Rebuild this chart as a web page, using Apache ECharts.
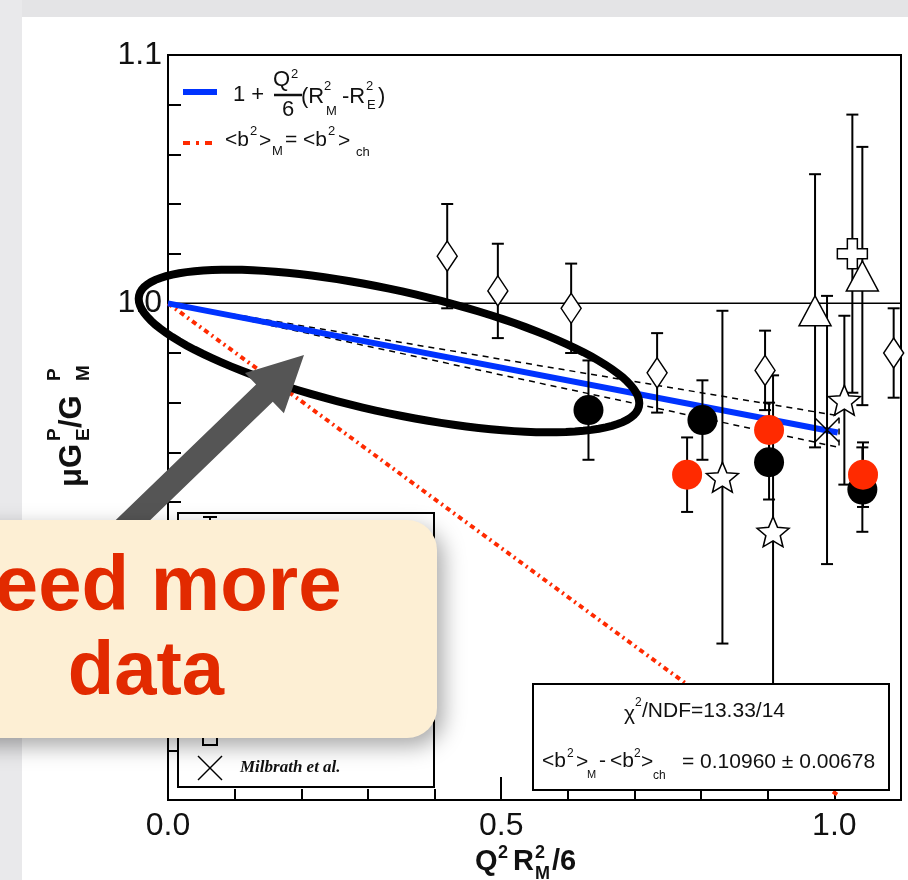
<!DOCTYPE html>
<html>
<head>
<meta charset="utf-8">
<script src="https://cdn.jsdelivr.net/npm/echarts@6/dist/echarts.min.js"></script>
<style>
  html, body { margin: 0; padding: 0; background: #fff; }
  #main { width: 908px; height: 880px; }
</style>
</head>
<body>
<div id="main"></div>
<script>
// values
var diamondX   = [0.419, 0.495, 0.605, 0.734, 0.896, 1.089];
var diamondY   = [1.019, 1.005, 0.998, 0.972, 0.973, 0.980];
var diamondErr = [0.021, 0.019, 0.018, 0.016, 0.016, 0.018];

var blackX   = [0.631, 0.802, 0.902, 1.042];
var blackY   = [0.957, 0.953, 0.936, 0.925];
var blackErr = [0.020, 0.016, 0.015, 0.017];

var redX   = [0.779, 0.902, 1.043];
var redY   = [0.931, 0.949, 0.931];
var redErr = [0.015, 0.011, 0.013];

var starX   = [0.832, 0.908, 1.015];
var starY   = [0.930, 0.908, 0.961];
var starErr = [0.067, 0.063, 0.034];

var triX   = [0.971, 1.042];
var triY   = [0.997, 1.011];
var triErr = [0.055, 0.052];

var crossX   = [1.027];
var crossY   = [1.020];
var crossErr = [0.056];

var milbX   = [0.989];
var milbY   = [0.949];
var milbErr = [0.054];

// fit line, its error band and the <b2>_M=<b2>_ch line
var fitX   = [0, 1.005];
var fitY   = [1.0, 0.948];
var bandX  = [0, 1.007, 1.007, 0];
var bandY  = [1.0, 0.9547, 0.942, 1.0];
var equalX = [0, 1.005];
var equalY = [1.0, 0.802];
var refX   = [0, 1.1];
var refY   = [1.0, 1.0];

var xTickLabels = ['0.0', '0.5', '1.0'];
var yTickLabels = ['0.9', '1.0', '1.1'];

var FONT = '"Liberation Sans", Arial, sans-serif';

function pts(xs, ys) { return xs.map(function (x, i) { return [x, ys[i]]; }); }
function errPts(xs, ys, es) { return xs.map(function (x, i) { return [x, ys[i], es[i]]; }); }

function errSeries(xs, ys, es) {
  return {
    type: 'custom', z: 3, silent: true,
    data: errPts(xs, ys, es),
    encode: { x: 0, y: 1 },
    renderItem: function (params, api) {
      var x = api.value(0), y = api.value(1), e = api.value(2);
      var t = api.coord([x, y + e]), b = api.coord([x, y - e]);
      var st = { stroke: '#000', lineWidth: 2 };
      return { type: 'group', children: [
        { type: 'line', shape: { x1: t[0], y1: t[1], x2: b[0], y2: b[1] }, style: st },
        { type: 'line', shape: { x1: t[0] - 6, y1: t[1], x2: t[0] + 6, y2: t[1] }, style: st },
        { type: 'line', shape: { x1: b[0] - 6, y1: b[1], x2: b[0] + 6, y2: b[1] }, style: st }
      ] };
    }
  };
}

function markSeries(xs, ys, symbol, size, fill, border) {
  return {
    type: 'scatter', z: 4, silent: true,
    data: pts(xs, ys), symbol: symbol, symbolSize: size,
    itemStyle: { color: fill, borderColor: border || fill, borderWidth: border ? 1.5 : 0, opacity: 1 }
  };
}

function lineSeries(xs, ys, color, width, type) {
  return {
    type: 'line', z: 2, silent: true, symbol: 'none',
    data: pts(xs, ys),
    lineStyle: { color: color, width: width, type: type }
  };
}

// five point star symbol
function starPath() {
  var p = [];
  for (var k = 0; k < 10; k++) {
    var r = k % 2 ? 0.45 : 1;
    var a = -Math.PI / 2 + k * Math.PI / 5;
    p.push((k ? 'L' : 'M') + (r * Math.cos(a)).toFixed(3) + ',' + (r * Math.sin(a)).toFixed(3));
  }
  return 'path://' + p.join('') + 'Z';
}
var plusPath = 'path://M3,0H6V3H9V6H6V9H3V6H0V3H3Z';
var xPath = 'path://M0,0L10,10M10,0L0,10';

// text pieces for the little formulas
function t(x, y, s, size, opt) {
  opt = opt || {};
  return {
    type: 'text', x: x, y: y, z: opt.z || 60, silent: true,
    style: {
      text: s, fontSize: size, fontFamily: opt.family || FONT,
      fontWeight: opt.bold ? 'bold' : 'normal', fontStyle: opt.italic ? 'italic' : 'normal',
      fill: opt.color || '#111', align: opt.align || 'left', verticalAlign: 'middle'
    }
  };
}

// callout arrow
function arrowPoints(tip, angleDeg, len, headLen, headHalf, shaftHalf) {
  var a = angleDeg * Math.PI / 180;
  var ux = Math.cos(a), uy = -Math.sin(a);
  var nx = -uy, ny = ux;
  var bx = tip[0] - headLen * ux, by = tip[1] - headLen * uy;
  var tx = tip[0] - len * ux, ty = tip[1] - len * uy;
  return [
    [tx + shaftHalf * nx, ty + shaftHalf * ny],
    [bx + shaftHalf * nx, by + shaftHalf * ny],
    [bx + headHalf * nx, by + headHalf * ny],
    tip,
    [bx - headHalf * nx, by - headHalf * ny],
    [bx - shaftHalf * nx, by - shaftHalf * ny],
    [tx - shaftHalf * nx, ty - shaftHalf * ny]
  ];
}

function ellipsePoints(cx, cy, a, b, phiDeg) {
  var phi = phiDeg * Math.PI / 180, out = [];
  for (var i = 0; i < 120; i++) {
    var s = i / 120 * Math.PI * 2;
    out.push([cx + a * Math.cos(s) * Math.cos(phi) - b * Math.sin(s) * Math.sin(phi),
              cy + a * Math.cos(s) * Math.sin(phi) + b * Math.sin(s) * Math.cos(phi)]);
  }
  return out;
}

var chart = echarts.init(document.getElementById('main'));

var axisBase = {
  axisLine: { lineStyle: { color: '#000', width: 2 } },
  splitLine: { show: false }
};

chart.setOption({
  animation: false,
  backgroundColor: '#fff',
  grid: { left: 168, right: 7, top: 55, bottom: 80, show: true, borderColor: '#000', borderWidth: 2,
          outerBoundsMode: 'none' },
  xAxis: [
    Object.assign({
      type: 'value', min: 0, max: 1.1, interval: 0.1, position: 'bottom',
      axisTick: { inside: true, length: 11, lineStyle: { color: '#000', width: 2 } },
      axisLabel: {
        margin: 10, fontSize: 32, fontFamily: FONT, color: '#111',
        formatter: function (v) {
          var s = v.toFixed(1);
          return xTickLabels.indexOf(s) >= 0 && Math.abs(v - parseFloat(s)) < 1e-6 ? s : '';
        }
      }
    }, axisBase),
    {
      type: 'value', min: 0, max: 1.1, interval: 0.5, position: 'bottom',
      axisLine: { show: false }, splitLine: { show: false }, axisLabel: { show: false },
      axisTick: { inside: true, length: 23, lineStyle: { color: '#000', width: 2 } }
    }
  ],
  yAxis: Object.assign({
    type: 'value', min: 0.8, max: 1.1, interval: 0.02,
    axisTick: { inside: true, length: 13, lineStyle: { color: '#000', width: 2 } },
    axisLabel: {
      margin: 6, fontSize: 32, fontFamily: FONT, color: '#111',
      formatter: function (v) {
        var s = v.toFixed(1);
        return yTickLabels.indexOf(s) >= 0 && Math.abs(v - parseFloat(s)) < 1e-6 ? s : '';
      }
    }
  }, axisBase),
  series: [
    lineSeries(refX, refY, '#000', 1.5, 'solid'),
    lineSeries(equalX, equalY, '#ff2a00', 4, [5, 4, 2, 4]),
    lineSeries(bandX, bandY, '#000', 1.5, [6, 5]),
    lineSeries(fitX, fitY, '#0033ff', 6, 'solid'),

    errSeries(diamondX, diamondY, diamondErr),
    errSeries(blackX, blackY, blackErr),
    errSeries(redX, redY, redErr),
    errSeries(starX, starY, starErr),
    errSeries(triX, triY, triErr),
    errSeries(crossX, crossY, crossErr),
    errSeries(milbX, milbY, milbErr),

    markSeries(diamondX, diamondY, 'diamond', [20, 30], '#fff', '#000'),
    markSeries(starX, starY, starPath(), [32, 30], '#fff', '#000'),
    markSeries(triX, triY, 'triangle', [32, 30], '#fff', '#000'),
    markSeries(crossX, crossY, plusPath, [30, 30], '#fff', '#000'),
    markSeries(milbX, milbY, xPath, [24, 24], 'rgba(0,0,0,0)', '#000'),
    markSeries(blackX, blackY, 'circle', 30, '#000'),
    markSeries(redX, redY, 'circle', 30, '#ff2a00')
  ],
  graphic: [
    // grey slide margin
    { type: 'rect', z: 1, silent: true, shape: { x: 0, y: 0, width: 908, height: 17 }, style: { fill: '#e4e4e6' } },
    { type: 'rect', z: 1, silent: true, shape: { x: 0, y: 0, width: 22, height: 880 }, style: { fill: '#e9e9eb' } },

    // y title  (rotated)
    { type: 'group', x: 84, y: 487, rotation: Math.PI / 2, z: 60, silent: true, children: [
      t(0, -12, '\u03bcG', 31, { bold: true }),
      t(46, -29, 'P', 19, { bold: true }),
      t(46, 0, 'E', 19, { bold: true }),
      t(59, -12, '/G', 31, { bold: true }),
      t(106, -29, 'P', 19, { bold: true }),
      t(106, 0, 'M', 19, { bold: true })
    ] },

    // x title
    t(475, 862, 'Q', 29, { bold: true }),
    t(498, 853, '2', 18, { bold: true }),
    t(513, 862, 'R', 29, { bold: true }),
    t(535, 853, '2', 18, { bold: true }),
    t(535, 874, 'M', 18, { bold: true }),
    t(552, 862, '/6', 29, { bold: true }),

    // top-left legend
    { type: 'line', z: 60, silent: true, shape: { x1: 183, y1: 92, x2: 217, y2: 92 }, style: { stroke: '#0033ff', lineWidth: 6 } },
    t(233, 95, '1 +', 22),
    t(273, 80, 'Q', 22),
    t(291, 74, '2', 13),
    { type: 'line', z: 60, silent: true, shape: { x1: 274, y1: 95, x2: 302, y2: 95 }, style: { stroke: '#111', lineWidth: 2.5 } },
    t(282, 110, '6', 22),
    t(301, 97, '(R', 22),
    t(324, 86, '2', 13),
    t(326, 111, 'M', 13),
    t(342, 97, '-R', 22),
    t(366, 86, '2', 13),
    t(367, 105, 'E', 13),
    t(378, 97, ')', 22),

    { type: 'line', z: 60, silent: true, shape: { x1: 183, y1: 143, x2: 216, y2: 143 },
      style: { stroke: '#ff2a00', lineWidth: 4, lineDash: [7, 6, 3, 6] } },
    t(225, 140, '<b', 21),
    t(250, 131, '2', 13),
    t(259, 141, '>', 21),
    t(272, 151, 'M', 13),
    t(285, 140, '=', 21),
    t(303, 140, '<b', 21),
    t(328, 131, '2', 13),
    t(338, 141, '>', 21),
    t(356, 152, 'ch', 13),

    // stats box
    { type: 'rect', z: 50, silent: true, shape: { x: 533, y: 684, width: 356, height: 106 },
      style: { fill: '#fff', stroke: '#000', lineWidth: 2 } },
    t(624, 714, '\u03c7', 21),
    t(635, 703, '2', 12),
    t(642, 711, '/NDF=13.33/14', 21),
    t(542, 761, '<b', 21),
    t(567, 754, '2', 12),
    t(576, 762, '>', 21),
    t(587, 775, 'M', 11),
    t(599, 761, '-', 21),
    t(610, 761, '<b', 21),
    t(634, 754, '2', 12),
    t(641, 762, '>', 21),
    t(653, 776, 'ch', 12),
    t(682, 762, '= 0.10960 \u00b1 0.00678', 21),

    // lower-left legend box (mostly hidden by the callout)
    { type: 'rect', z: 50, silent: true, shape: { x: 178, y: 513, width: 256, height: 274 },
      style: { fill: '#fff', stroke: '#000', lineWidth: 2 } },
    { type: 'line', z: 51, silent: true, shape: { x1: 210, y1: 517, x2: 210, y2: 560 }, style: { stroke: '#000', lineWidth: 2 } },
    { type: 'line', z: 51, silent: true, shape: { x1: 203, y1: 517, x2: 217, y2: 517 }, style: { stroke: '#000', lineWidth: 2 } },
    { type: 'rect', z: 51, silent: true, shape: { x: 203, y: 730, width: 14, height: 15 },
      style: { fill: '#fff', stroke: '#000', lineWidth: 2 } },
    { type: 'line', z: 51, silent: true, shape: { x1: 198, y1: 756, x2: 222, y2: 780 }, style: { stroke: '#000', lineWidth: 1.5 } },
    { type: 'line', z: 51, silent: true, shape: { x1: 222, y1: 756, x2: 198, y2: 780 }, style: { stroke: '#000', lineWidth: 1.5 } },
    t(240, 768, 'Milbrath et al.', 17, { bold: true, italic: true, family: '"Liberation Serif", "DejaVu Serif", serif' }),

    // ellipse, arrow, callout
    { type: 'polygon', z: 100, silent: true, shape: { points: ellipsePoints(389, 351, 256, 61, 12.5) },
      style: { fill: 'none', stroke: '#000', lineWidth: 8 } },
    { type: 'polygon', z: 101, silent: true, shape: { points: arrowPoints([304, 355], 44, 330, 55, 28, 12) },
      style: { fill: '#555' } },
    { type: 'rect', z: 102, silent: true, shape: { x: -140, y: 520, width: 577, height: 218, r: 30 },
      style: { fill: '#fdefd4', shadowBlur: 22, shadowColor: 'rgba(0,0,0,0.35)', shadowOffsetX: 6, shadowOffsetY: 8 } },
    t(140, 588, 'Need more', 78, { bold: true, color: '#e22a00', align: 'center', z: 110 }),
    t(146, 673, 'data', 76, { bold: true, color: '#e22a00', align: 'center', z: 110 })
  ]
});
window.onresize = function () { chart.resize(); };
</script>
</body>
</html>
